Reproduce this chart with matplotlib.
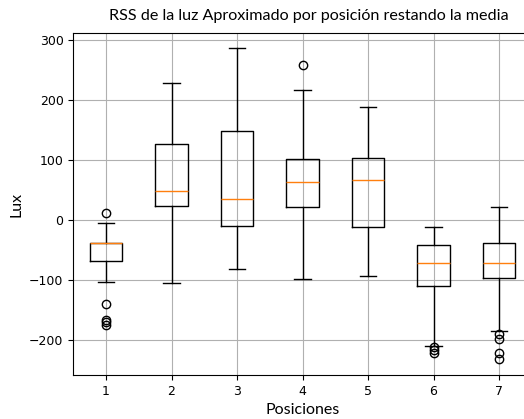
import matplotlib
matplotlib.use("Agg")
import matplotlib.pyplot as plt

# --- datos ---
posiciones = [1, 2, 3, 4, 5, 6, 7]
q1 = [-68, 23, -10, 22, -11, -109, -97]
mediana = [-39, 49, 35, 64, 66, -71, -71]
q3 = [-38, 126, 148, 101, 104, -42, -38]
bigote_bajo = [-103, -105, -81, -98, -93, -209, -184]
bigote_alto = [-5, 228, 287, 216, 188, -11, 22]
atipicos = [
    [12, -139, -166, -169, -175],
    [],
    [],
    [258],
    [],
    [-211, -216, -221],
    [-189, -198, -221, -232],
]

stats = []
for i in range(len(posiciones)):
    stats.append({
        "q1": q1[i], "med": mediana[i], "q3": q3[i],
        "whislo": bigote_bajo[i], "whishi": bigote_alto[i],
        "fliers": atipicos[i], "label": str(posiciones[i]),
    })

fig = plt.figure(figsize=(5.24, 4.19), dpi=100)
ax = fig.add_axes([73.3 / 524, 1 - 375 / 419, (531.75 - 73.3) / 524, (375 - 33.3) / 419])
ax.bxp(stats, positions=posiciones)
ax.set_ylim(-258, 311)
ax.grid(True)
ax.tick_params(labelsize=9)

ax.set_xlabel("Posiciones", family="Lato", fontsize=11.5)
ax.set_ylabel("Lux", family="Lato", fontsize=11.5)
fig.text(309 / 524, 1 - 16 / 419, "RSS de la luz Aproximado por posición restando la media",
         family="Lato", fontsize=11.6, ha="center", va="center")

fig.savefig("out.png", dpi=100)
